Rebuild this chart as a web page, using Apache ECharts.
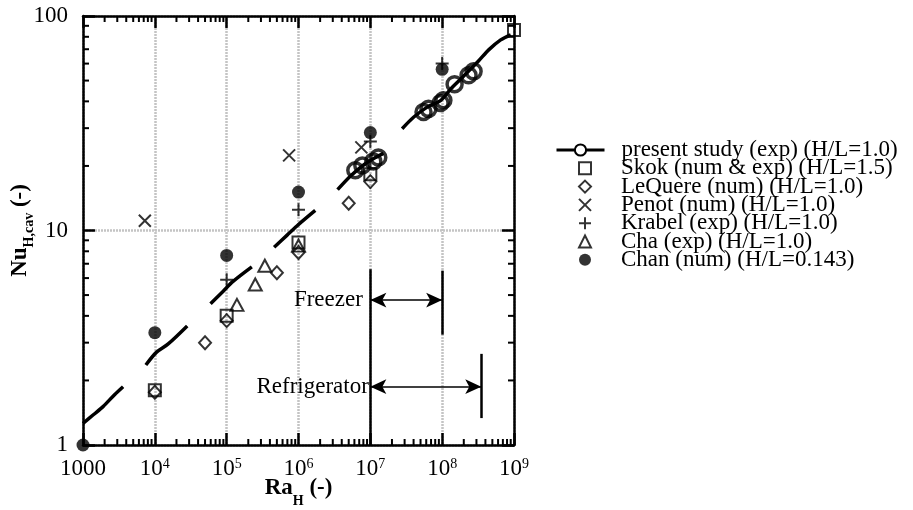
<!DOCTYPE html>
<html><head><meta charset="utf-8">
<script src="https://cdn.jsdelivr.net/npm/echarts@6/dist/echarts.min.js"></script>
<style>html,body{margin:0;padding:0;background:#fff}#c{width:913px;height:510px}</style>
</head><body><div id="c"></div>
<script>
const FONT = 'Liberation Serif';

// ---- data (Ra_H, Nu_H,cav) ----
const curveSegA = [[1000,1.26],[1379,1.38],[1901,1.51],[2770,1.72],[3615,1.87]];
const curveSegB = [[7500,2.36],[10570,2.71],[15350,2.96],[28250,3.59]];
const curveSegC = [[59600,4.56],[88900,5.20],[122700,5.79],[224000,6.77]];
const curveSegD = [[458000,8.35],[689000,9.49],[950000,10.5],[1.71e6,12.4]];
const curveSegE = [[3.5e6,15.5],[5.26e6,17.9],[8.07e6,20.2],[1.24e7,22.1],[1.52e7,22.9]];
const curveSegF = [[2.77e7,29.8],[4.03e7,33.8],[6.19e7,37.6],[9.48e7,40.3],[1.31e8,45.6],[1.8e8,50.7],[3.18e8,61.5],[4.48e8,69.7],[6.52e8,77.4],[9.0e8,81.7]];
const presentPoints = [[6.18e6,19.1],[7.74e6,20.1],[1.1e7,21.0],[1.29e7,21.9],
  [5.5e7,35.7],[6.45e7,36.9],[9.5e7,39.3],[1.04e8,40.5],[1.49e8,48.1],[2.33e8,52.9],[2.74e8,55.2]];
const skok = [[1e4,1.8],[1e5,4.0],[1e6,8.8],[1e7,18.3],[1e9,86]];
const lequere = [[1e4,1.76],[5e4,3.0],[1e5,3.8],[5e5,6.35],[1e6,7.9],[5e6,13.4],[1e7,16.9]];
const penot = [[7260,11.1],[7.4e5,22.4],[7.5e6,24.4]];
const krabel = [[1e5,5.9],[1e6,12.5],[1e7,26],[1e8,60]];
const cha = [[1.39e5,4.5],[2.5e5,5.6],[3.4e5,6.85],[1e6,8.5]];
const chan = [[1000,1.0],[1e4,3.34],[1e5,7.65],[1e6,15.1],[1e7,28.6],[1e8,56.4]];

const seriesNames = ['present study (exp) (H/L=1.0)','Skok (num & exp) (H/L=1.5)','LeQuere (num) (H/L=1.0)',
  'Penot (num) (H/L=1.0)','Krabel (exp) (H/L=1.0)','Cha (exp) (H/L=1.0)','Chan (num) (H/L=0.143)'];

// annotations
const freezerRange = [1e7, 1e8], freezerY = 4.74;
const refrigRange = [1e7, 3.5e8], refrigY = 1.87;
const markerBars = [[1e7, 1, 6.6], [1e8, 3.27, 6.5], [3.5e8, 1.335, 2.66]]; // [x, yLow, yHigh]

// axes
const xRange = [1000, 1e9], yRange = [1, 100];
const minorMultipliers = [2,3,4,5,6,7,8,9];

function minorValues(lo, hi) {
  const out = [];
  for (let e = Math.round(Math.log10(lo)); e < Math.round(Math.log10(hi)); e++)
    for (const m of minorMultipliers) out.push(m * Math.pow(10, e));
  return out;
}
const xMinor = minorValues(xRange[0], xRange[1]);
const yMinor = minorValues(yRange[0], yRange[1]);

const curveData = [];
[curveSegA, curveSegB, curveSegC, curveSegD, curveSegE, curveSegF].forEach((s, i) => {
  if (i) curveData.push(['-', '-']);
  s.forEach(p => curveData.push(p));
});

const chart = echarts.init(document.getElementById('c'));
const axisLine = {show: true, onZero: false, lineStyle: {color: '#000', width: 2.5}};
const majorTick = {show: true, inside: true, length: 12, lineStyle: {color: '#000', width: 2.5}};
const gridLine = {show: true, lineStyle: {color: '#c4c4c4', width: 2.5, type: [2, 1]}};
const TICK_MINOR = 6;

function minorTickSeries(values, isX) {
  return {
    type: 'custom', silent: true, clip: false, z: 5,
    data: values.map(v => isX ? [v, yRange[0]] : [xRange[0], v]),
    renderItem: (params, api) => {
      const cs = params.coordSys;
      const st = {stroke: '#000', lineWidth: 2};
      if (isX) {
        const x = api.coord([api.value(0), yRange[0]])[0];
        return {type: 'group', children: [
          {type: 'line', shape: {x1: x, y1: cs.y + cs.height, x2: x, y2: cs.y + cs.height - TICK_MINOR}, style: st},
          {type: 'line', shape: {x1: x, y1: cs.y, x2: x, y2: cs.y + TICK_MINOR}, style: st}
        ]};
      }
      const y = api.coord([xRange[0], api.value(1)])[1];
      return {type: 'group', children: [
        {type: 'line', shape: {x1: cs.x, y1: y, x2: cs.x + TICK_MINOR, y2: y}, style: st},
        {type: 'line', shape: {x1: cs.x + cs.width, y1: y, x2: cs.x + cs.width - TICK_MINOR, y2: y}, style: st}
      ]};
    }
  };
}

const openStyle = {color: 'rgba(0,0,0,0)', borderColor: '#000', borderWidth: 2};
const labelText = {fontFamily: FONT, fontSize: 23, color: '#000'};
function nameRich(subLine) {
  return {
    b: {fontFamily: FONT, fontSize: 23, fontWeight: 'bold', color: '#000', verticalAlign: 'top', lineHeight: 23},
    s: {fontFamily: FONT, fontSize: 14, fontWeight: 'bold', color: '#000', verticalAlign: 'bottom', lineHeight: subLine}
  };
}
const LEGEND_TOP = 133.5, LEGEND_ROW = 18.3;
const legendText = {fontFamily: FONT, fontSize: 23, color: '#000'};

chart.setOption({
  backgroundColor: '#fff',
  animation: false,
  grid: {left: 83, right: 399, top: 16, bottom: 65, containLabel: false, outerBoundsMode: 'none'},
  xAxis: [{
    type: 'log', logBase: 10, min: xRange[0], max: xRange[1], position: 'bottom',
    axisLine, axisTick: majorTick, splitLine: gridLine,
    axisLabel: {
      margin: 12, fontFamily: FONT, fontSize: 23, color: '#000',
      formatter: v => { const e = Math.round(Math.log10(v)); return e === 3 ? '{b|1000}' : '{b|10}{s|' + e + '}'; },
      rich: {b: {fontFamily: FONT, fontSize: 23, color: '#000', verticalAlign: 'top', lineHeight: 23},
             s: {fontFamily: FONT, fontSize: 14, color: '#000', verticalAlign: 'top', lineHeight: 14}}
    },
    name: '{b|Ra}{s|H}{b| (-)}', nameLocation: 'middle', nameGap: 32, nameMoveOverlap: false,
    nameTextStyle: {rich: nameRich(31)}
  }, {
    type: 'log', logBase: 10, min: xRange[0], max: xRange[1], position: 'top',
    axisLine, axisTick: majorTick, splitLine: {show: false}, axisLabel: {show: false}
  }],
  yAxis: [{
    type: 'log', logBase: 10, min: yRange[0], max: yRange[1], position: 'left',
    axisLine, axisTick: majorTick, splitLine: gridLine,
    axisLabel: {margin: 15, fontFamily: FONT, fontSize: 23, color: '#000', formatter: v => String(Math.round(v))},
    name: '{b|Nu}{s|H,cav}{b| (-)}', nameLocation: 'middle', nameGap: 47, nameMoveOverlap: false,
    nameTextStyle: {rich: nameRich(27)}
  }, {
    type: 'log', logBase: 10, min: yRange[0], max: yRange[1], position: 'right',
    axisLine, axisTick: majorTick, splitLine: {show: false}, axisLabel: {show: false}
  }],
  legend: [{
    orient: 'vertical', left: 550, top: LEGEND_TOP, itemWidth: 48, itemHeight: 14, itemGap: 0,
    selectedMode: false, data: seriesNames.slice(0, 1),
    lineStyle: {width: 3},
    textStyle: Object.assign({padding: [0, 0, 0, 12]}, legendText)
  }, {
    orient: 'vertical', left: 573, top: LEGEND_TOP + LEGEND_ROW, itemWidth: 12, itemHeight: 12, itemGap: -4.7,
    selectedMode: false, data: seriesNames.slice(1),
    textStyle: Object.assign({padding: [0, 0, 0, 25]}, legendText)
  }],
  series: [
    minorTickSeries(xMinor, true),
    minorTickSeries(yMinor, false),
    {
      name: seriesNames[0], type: 'line', data: curveData, smooth: 0.3, connectNulls: false,
      symbol: 'emptyCircle', showSymbol: false, lineStyle: {color: '#000', width: 3.5}, itemStyle: {color: '#000'}, z: 3
    },
    {name: seriesNames[0], type: 'scatter', data: presentPoints, symbol: 'circle', symbolSize: 15,
      itemStyle: {color: 'rgba(0,0,0,0)', borderColor: '#000', borderWidth: 3.5}, z: 4},
    {name: seriesNames[1], type: 'scatter', data: skok, symbol: 'rect', symbolSize: 12, itemStyle: openStyle, z: 4},
    {name: seriesNames[2], type: 'scatter', data: lequere, symbol: 'diamond', symbolSize: [12, 13], itemStyle: openStyle, z: 4},
    {name: seriesNames[3], type: 'scatter', data: penot, symbol: 'path://M0,0L10,10M10,0L0,10', symbolSize: 12, itemStyle: openStyle, z: 4},
    {name: seriesNames[4], type: 'scatter', data: krabel, symbol: 'path://M5,0L5,10M0,5L10,5', symbolSize: 13, itemStyle: openStyle, z: 4},
    {name: seriesNames[5], type: 'scatter', data: cha, symbol: 'triangle', symbolSize: [13, 12], itemStyle: openStyle, z: 4},
    {name: seriesNames[6], type: 'scatter', data: chan, symbol: 'circle', symbolSize: 13, itemStyle: {color: '#000'}, z: 4},
    {
      name: 'annotations', type: 'scatter', data: [], silent: true,
      markLine: {
        silent: true, symbol: 'none', animation: false,
        label: {show: false},
        data: markerBars.map(b => [
          {coord: [b[0], b[1]], lineStyle: {color: '#000', width: 2.5, type: 'solid'}},
          {coord: [b[0], b[2]]}
        ]).concat([
          [{coord: [freezerRange[0], freezerY], symbol: 'arrow', symbolSize: [11, 16], lineStyle: {color: '#000', width: 1.5, type: 'solid'}},
           {coord: [freezerRange[1], freezerY], symbol: 'arrow', symbolSize: [11, 16]}],
          [{coord: [refrigRange[0], refrigY], symbol: 'arrow', symbolSize: [11, 16], lineStyle: {color: '#000', width: 1.5, type: 'solid'}},
           {coord: [refrigRange[1], refrigY], symbol: 'arrow', symbolSize: [11, 16]}]
        ])
      },
      markPoint: {
        silent: true, symbol: 'circle', symbolSize: 1, itemStyle: {color: 'rgba(0,0,0,0)'},
        data: [
          {coord: [freezerRange[0], freezerY], label: Object.assign({show: true, position: 'left', distance: 7, formatter: 'Freezer'}, labelText)},
          {coord: [refrigRange[0], refrigY], label: Object.assign({show: true, position: 'left', distance: 1, formatter: 'Refrigerator'}, labelText)}
        ]
      }
    }
  ]
});
</script></body></html>
